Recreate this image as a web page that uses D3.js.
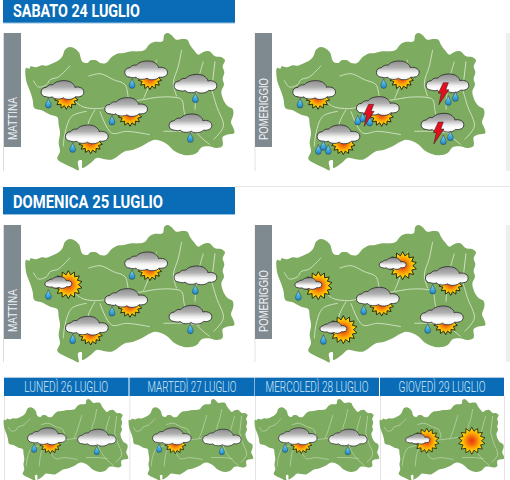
<![CDATA[<!DOCTYPE html>
<html><head><meta charset="utf-8">
<script src="https://cdn.jsdelivr.net/npm/d3@7/dist/d3.min.js"></script>
<style>html,body{margin:0;padding:0;background:#fff;overflow:hidden}svg{display:block}</style>
</head><body><svg id="c" width="510" height="480"></svg>
<script>
// ---- data ----
const dayHeaders = ["SABATO 24 LUGLIO","DOMENICA 25 LUGLIO"];
const smallHeaders = ["LUNEDÌ 26 LUGLIO","MARTEDÌ 27 LUGLIO","MERCOLEDÌ 28 LUGLIO","GIOVEDÌ 29 LUGLIO"];
const periodLabels = ["MATTINA","POMERIGGIO"];
const outline = [[78,205],[88,207],[92,200],[108,203],[125,197],[140,198],[160,190],[178,180],[188,168],[195,150],[210,142],[225,147],[238,160],[243,178],[248,187],[262,190],[272,182],[288,182],[300,190],[318,190],[335,172],[352,162],[372,160],[395,155],[415,155],[435,150],[447,135],[462,127],[488,125],[493,105],[503,100],[515,107],[528,120],[545,118],[562,120],[570,135],[582,152],[595,165],[610,157],[628,155],[645,170],[663,172],[675,182],[668,200],[673,218],[668,238],[672,255],[664,275],[670,300],[682,318],[698,328],[700,345],[693,368],[700,385],[703,400],[680,405],[668,412],[668,438],[650,445],[625,440],[605,443],[590,460],[565,467],[540,462],[520,452],[505,437],[485,425],[465,420],[445,428],[425,440],[400,450],[375,455],[355,468],[335,480],[310,478],[290,475],[272,490],[255,502],[247,505],[245,482],[234,485],[236,512],[220,505],[205,498],[188,490],[172,478],[180,455],[176,430],[180,400],[176,375],[172,352],[150,345],[125,332],[103,325],[98,300],[92,280],[85,262],[78,240]];
const rivers = [
 [[100,242],[115,262],[140,255],[150,240],[175,232],[210,198]],
 [[225,305],[250,322],[310,325],[335,310],[385,305],[430,300],[470,293],[525,293],[545,300],[555,345],[590,400],[630,435]],
 [[265,230],[300,222],[340,240],[375,255],[385,300]],
 [[430,298],[445,262],[470,180]],
 [[530,290],[520,250],[535,200],[545,150]],
 [[585,330],[590,260],[600,220],[610,185]],
 [[635,270],[645,185]],
 [[635,270],[650,320],[670,380],[640,420]],
 [[300,335],[335,400],[380,395],[450,405]],
 [[285,330],[265,370],[255,440]],
 [[260,335],[215,350],[195,400],[190,440]],
 [[490,395],[550,395],[600,400]]
];
const sat_am = [["cloudSunDrop",187,272],["cloudSunDrop",438,213],["cloudDrop",586,253],["cloudSunDrop",378,323],["cloudDrop",571,372],["cloudSunDrop",260,405]];
const sat_pm = [["cloudSunDrop",189,272],["cloudSunDrop",440,213],["storm",589,252],["stormSun",380,320],["storm",574,370],["cloudSun3",262,405]];
const sun_am = [["sunCloudDrop",205,279],["cloudSunDrop",438,210],["cloudDrop",586,252],["cloudSunDrop",378,320],["cloudDrop",571,370],["cloudSunDrop",260,403]];
const sun_pm = [["sunCloudDrop",202,282],["sunCloud",455,222],["cloudSunDrop",587,254],["cloudSunDrop",380,316],["cloudSunDrop",572,372],["sunCloudDrop",277,414]];
const mon = [["cloudSunDrop",293,289],["cloudDrop",545,296]];
const tue = [["cloudSunDrop",293,289],["cloudDrop",545,296]];
const wed = [["cloudSunDrop",293,289],["cloudDrop",545,296]];
const thu = [["sunCloud",313,310],["sun",540,310]];

// ---- layout ----
const mapX = [78,703], mapY = [100,512];
const bigPanels = [
 {x:26,y:33,sym:sat_am,lab:0,lx:4,ly:33},
 {x:277,y:33,sym:sat_pm,lab:1,lx:255,ly:33},
 {x:26,y:225,sym:sun_am,lab:0,lx:4,ly:225},
 {x:277,y:225,sym:sun_pm,lab:1,lx:255,ly:225}];
const smallPanels = [
 {x:4,y:399,sym:mon,hx:4,hw:124.5,tw:84},
 {x:129,y:399,sym:tue,hx:129.5,hw:125,tw:89},
 {x:255,y:399,sym:wed,hx:255,hw:124,tw:103},
 {x:380,y:399,sym:thu,hx:380,hw:124,tw:87}];

const svg = d3.select("#c");
const defs = svg.append("defs");
function grad(id,stops,radial){
 const g = defs.append(radial?"radialGradient":"linearGradient").attr("id",id);
 if(!radial) g.attr("x1",0).attr("x2",0).attr("y1",0).attr("y2",1);
 stops.forEach(s=>g.append("stop").attr("offset",s[0]).attr("stop-color",s[1]));
}
grad("gCloud",[[0,"#8e8e8e"],[.35,"#b0b0b0"],[.62,"#f0f0f0"],[.78,"#ffffff"],[1,"#f2f2f2"]]);
grad("gDrop",[[0,"#a8e0f6"],[.5,"#45b4e6"],[1,"#1b7fc0"]]);
grad("gSun",[[0,"#e63512"],[.3,"#f26a0c"],[.55,"#fda405"],[.78,"#ffd208"],[1,"#fff000"]],true);

const CLOUD="M-16,6.5 C-23,6.5 -23,-3 -16,-3 C-15,-5 -12,-6 -9.5,-5.5 C-7,-10 6,-11.5 10,-7 C12,-5.5 12.5,-4 12.5,-3 C15,-4 21.5,-3 21.5,1.5 C21.5,6 17,7 13,6.5 C11,9.5 3,10 1,7.5 C-2,9.5 -9,9 -10,6.5 C-12,7.5 -14,7 -16,6.5 Z";
const DROP="M0,-5 C0.6,-2.5 2.9,-0.2 2.9,1.8 A2.9,2.9 0 0 1 -2.9,1.8 C-2.9,-0.2 -0.6,-2.5 0,-5 Z";
const BOLT="M1,0 L6,0 L3.5,7 L6.5,7 L-3.5,22 L-1,10.5 L-4,10.5 Z";
const starPts = d3.range(28).map(i=>[i*Math.PI/14,(i%2?0.72:1)]);
const star = r => d3.lineRadial().angle(d=>d[0]).radius(d=>d[1]*r).curve(d3.curveLinearClosed)(starPts);

function cloud(g,dx,dy,k){g.append("path").attr("d",CLOUD).attr("transform",`translate(${dx},${dy}) scale(${k})`)
 .attr("fill","url(#gCloud)").attr("stroke","#333").attr("stroke-width",.9/k);}
function drop(g,dx,dy){g.append("path").attr("d",DROP).attr("transform",`translate(${dx},${dy})`)
 .attr("fill","url(#gDrop)").attr("stroke","#2b4a5c").attr("stroke-width",.6);}
function sun(g,dx,dy,r){g.append("path").attr("d",star(r)).attr("transform",`translate(${dx},${dy})`)
 .attr("fill","url(#gSun)").attr("stroke","#201c08").attr("stroke-width",.9);}
function bolt(g,dx,dy){g.append("path").attr("d",BOLT).attr("transform",`translate(${dx},${dy})`)
 .attr("fill","#e3101f").attr("stroke","#30161a").attr("stroke-width",.5);}
const icons = {
 cloudSunDrop(g){sun(g,4,7,12);cloud(g,0,0,1);drop(g,-14,13);},
 cloudDrop(g){cloud(g,0,0,1);drop(g,0,14);},
 cloudSun3(g){sun(g,5,8,12);cloud(g,0,0,1);drop(g,-15,11);drop(g,-20,15);drop(g,-10,15);},
 storm(g){cloud(g,0,0,1);drop(g,1,17);drop(g,8,13);bolt(g,-5,-1);},
 stormSun(g){sun(g,4,8,12);cloud(g,0,0,1);drop(g,-15,11);drop(g,-20,14);drop(g,-8,15);bolt(g,-10,-2);},
 sunCloud(g){sun(g,0,0,14);cloud(g,-10,-2,.63);},
 sunCloudDrop(g){sun(g,0,0,14);cloud(g,-10,-2,.63);drop(g,-20,10);},
 sun(g){sun(g,0,0,15);}
};

function drawMap(p,k,iconK){
 const w=(mapX[1]-mapX[0])/3*k, h=(mapY[1]-mapY[0])/3*k;
 const sx=d3.scaleLinear().domain(mapX).range([p.x,p.x+w]);
 const sy=d3.scaleLinear().domain(mapY).range([p.y,p.y+h]);
 svg.append("path").datum(outline).attr("fill","#7dab5f")
  .attr("d",d3.line().x(d=>sx(d[0])).y(d=>sy(d[1])).curve(d3.curveCatmullRomClosed));
 svg.append("g").selectAll("path").data(rivers).join("path").attr("fill","none")
  .attr("stroke","#cde0bf").attr("stroke-width",k<1?.6:1)
  .attr("d",d3.line().x(d=>sx(d[0])).y(d=>sy(d[1])).curve(d3.curveCatmullRom));
 p.sym.forEach(s=>{
  const g=svg.append("g").attr("transform",`translate(${sx(s[1])},${sy(s[2])}) scale(${iconK})`);
  icons[s[0]](g);
 });
}
// text squeezed horizontally to a target width with a real transform
function fitText(x,y,str,width,anchor,size,weight,fill,font,rot){
 const t=svg.append("text").text(str).attr("font-family",font).attr("font-size",size)
   .attr("font-weight",weight).attr("fill",fill).attr("text-anchor",anchor);
 const n=t.node().getComputedTextLength();
 t.attr("transform",`translate(${x},${y}) rotate(${rot||0}) scale(${width/n},1)`);
 return t;
}
const FONT="'Roboto','Liberation Sans',sans-serif";

// separators and frames
const light="#e6e6e6";
svg.append("rect").attr("x",235).attr("y",186).attr("width",275).attr("height",1).attr("fill",light);
[[33,171],[225,362]].forEach(([a,b])=>{
 svg.append("rect").attr("x",3).attr("y",a).attr("width",1).attr("height",b-a).attr("fill","#dcdcdc");
 svg.append("rect").attr("x",254.5).attr("y",a).attr("width",1).attr("height",b-a).attr("fill","#e4e4e4");
 svg.append("rect").attr("x",506).attr("y",a).attr("width",4).attr("height",b-a).attr("fill","#efefef");
});

// big headers
[[0,23,16.8,127],[187,27.5,207.8,150]].forEach((h,i)=>{
 svg.append("rect").attr("x",3).attr("y",h[0]).attr("width",232).attr("height",h[1]).attr("fill","#0a6cb6");
 svg.append("rect").attr("x",3).attr("y",h[0]+h[1]-.5).attr("width",232).attr("height",1).attr("fill","#8fc0e0");
 fitText(13,h[2],dayHeaders[i],h[3],"start",18,700,"#fff",FONT);
});

// big panels
bigPanels.forEach(p=>{
 drawMap(p,1,1);
 svg.append("rect").attr("x",p.lx).attr("y",p.ly).attr("width",17).attr("height",114).attr("fill","#7f8a90");
 fitText(p.lx+13,p.ly+107,periodLabels[p.lab],p.lab?62:43,"start",12,400,"#f2f4f5","'Liberation Sans',sans-serif",-90);
});

// small panels
smallPanels.forEach((p,i)=>{
 svg.append("rect").attr("x",p.hx).attr("y",396).attr("width",.8).attr("height",84).attr("fill","#dcdcdc");
 drawMap(p,.596,.9);
 svg.append("rect").attr("x",p.hx).attr("y",377.5).attr("width",p.hw).attr("height",18.5).attr("fill","#0a6cb6");
 fitText(p.hx+p.hw/2,392.4,smallHeaders[i],p.tw,"middle",14,300,"#d6eaf8",FONT);
});
svg.append("rect").attr("x",504).attr("y",396).attr("width",.8).attr("height",84).attr("fill","#dcdcdc");
svg.append("rect").attr("x",3).attr("y",376.8).attr("width",501).attr("height",.7).attr("fill","#dde3e8");
</script></body></html>]]>
